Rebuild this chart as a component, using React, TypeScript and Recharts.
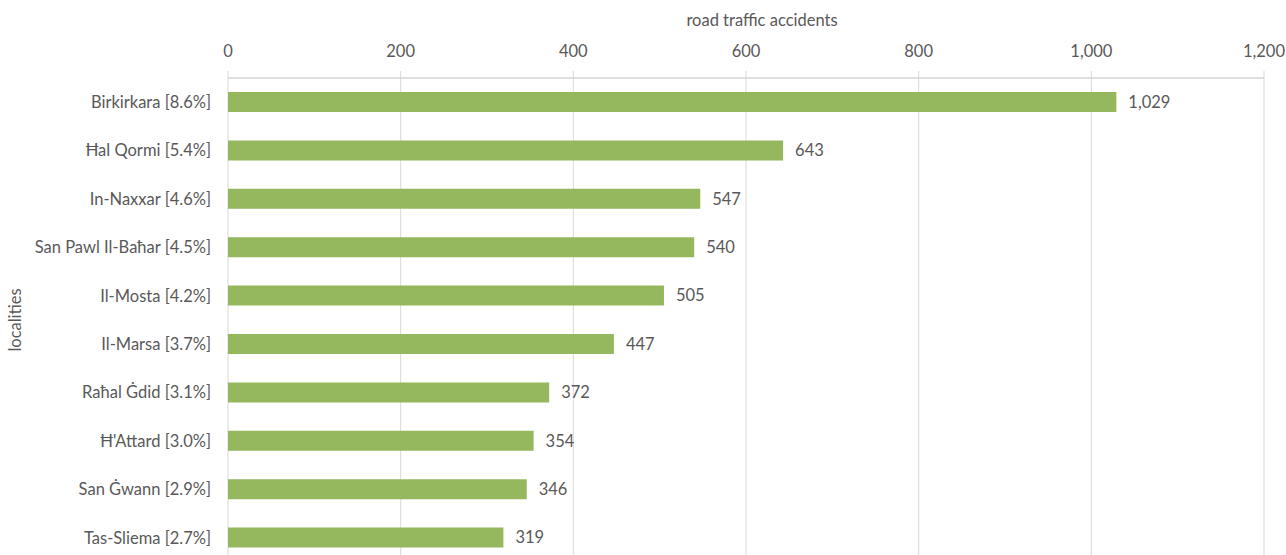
import { BarChart, Bar, XAxis, YAxis, CartesianGrid, LabelList } from "recharts";

const localities = [
  "Birkirkara [8.6%]",
  "Ħal Qormi [5.4%]",
  "In-Naxxar [4.6%]",
  "San Pawl Il-Baħar [4.5%]",
  "Il-Mosta [4.2%]",
  "Il-Marsa [3.7%]",
  "Raħal Ġdid [3.1%]",
  "Ħ'Attard [3.0%]",
  "San Ġwann [2.9%]",
  "Tas-Sliema [2.7%]",
];
const accidents = [1029, 643, 547, 540, 505, 447, 372, 354, 346, 319];
const xTicks = [0, 200, 400, 600, 800, 1000, 1200];

const data = localities.map((name, i) => ({ name, value: accidents[i] }));

const FONT = "Lato, 'Open Sans', sans-serif";
const TEXT = "#595959";
const FS = 16.5;
const fmt = (v: number) => v.toLocaleString("en-US");

export default function App() {
  return (
    <div
      style={{
        position: "absolute",
        left: 0,
        top: 0,
        width: 1286,
        height: 555,
        overflow: "hidden",
        background: "#fff",
        fontFamily: FONT,
      }}
    >
      <BarChart
        width={1286}
        height={600}
        data={data}
        layout="vertical"
        margin={{ top: 0, right: 22, left: 0, bottom: 38 }}
      >
        <CartesianGrid horizontal={false} stroke="#d9d9d9" />
        <XAxis
          type="number"
          orientation="top"
          domain={[0, 1200]}
          ticks={xTicks}
          tickFormatter={fmt}
          height={78}
          tickSize={7}
          tickMargin={14}
          axisLine={{ stroke: "#bfbfbf" }}
          tickLine={{ stroke: "#d9d9d9" }}
          tick={{ fill: TEXT, fontSize: FS, fontFamily: FONT }}
          label={{
            content: () => (
              <text
                x={762}
                y={26}
                textAnchor="middle"
                fill={TEXT}
                fontSize={FS}
                fontFamily={FONT}
              >
                road traffic accidents
              </text>
            ),
          }}
        />
        <YAxis
          type="category"
          dataKey="name"
          width={228}
          axisLine={false}
          tickLine={false}
          tickSize={0}
          tickMargin={17}
          tick={{ fill: TEXT, fontSize: FS, fontFamily: FONT }}
          label={{
            content: (props: any) => {
              const vb = props.viewBox || {};
              const cy = (vb.y ?? 78) + (vb.height ?? 484) / 2;
              return (
                <text
                  x={21}
                  y={cy}
                  transform={`rotate(-90, 21, ${cy})`}
                  textAnchor="middle"
                  fill={TEXT}
                  fontSize={FS}
                  fontFamily={FONT}
                >
                  localities
                </text>
              );
            },
          }}
        />
        <Bar dataKey="value" fill="#95b85f" barSize={20} isAnimationActive={false}>
          <LabelList
            dataKey="value"
            position="right"
            offset={12}
            formatter={(v: any) => fmt(Number(v))}
            fill={TEXT}
            fontSize={FS}
            fontFamily={FONT}
          />
        </Bar>
      </BarChart>
    </div>
  );
}
